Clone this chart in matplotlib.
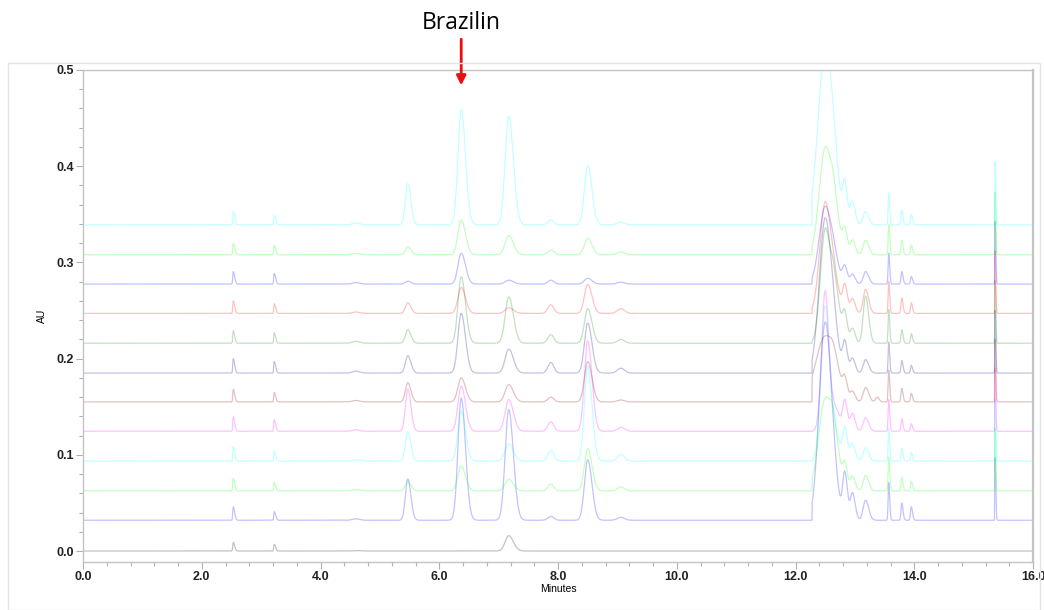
import numpy as np
import matplotlib
matplotlib.use('Agg')
import matplotlib.pyplot as plt
from matplotlib.patches import Rectangle
from matplotlib.ticker import MultipleLocator, FormatStrFormatter

# retention times (min) of the peaks
peak_times = [2.53, 3.22, 4.60, 5.47, 6.37, 7.17, 7.88, 8.50, 9.06,
              12.50, 12.65, 12.83, 12.96, 13.18, 13.38, 13.57, 13.79, 13.95, 15.36]
peak_sigma = [0.008, 0.008, 0.06, 0.04, 0.055, 0.06, 0.05, 0.055, 0.06,
              None, 0.06, 0.035, 0.035, 0.04, 0.03, 0.010, 0.013, 0.013, 0.004]
peak_tail = [3.0, 3.0, 1.0, 1.3, 1.3, 1.3, 1.0, 1.3, 1.0,
             1.0, 1.5, 1.3, 1.3, 1.3, 1.0, 1.6, 1.6, 1.6, 3.0]
rise_time = 12.28  # solvent step where the big cluster starts abruptly

# trace baselines (AU offset), colours, big-peak width
offsets = [0.0, 0.032, 0.0625, 0.0935, 0.1245, 0.155, 0.185, 0.216, 0.247, 0.2775, 0.308, 0.339]
colors = ['black', 'blue', 'lime', 'cyan', 'magenta', 'maroon',
          'navy', 'green', 'red', 'blue', 'lime', 'cyan']
big_sigma = [0.1, 0.1, 0.11, 0.07, 0.06, 0.16, 0.1, 0.08, 0.09, 0.1, 0.1, 0.12]

# peak heights per trace, same order as peak_times
h_grey = [0.009, 0.007, 0.0005, 0, 0, 0.016, 0, 0, 0, 0, 0, 0, 0, 0, 0, 0, 0, 0, 0]
h_blue1 = [0.014, 0.009, 0.0015, 0.043, 0.127, 0.115, 0.004, 0.063, 0.003,
           0.205, 0.025, 0.047, 0.028, 0.021, 0, 0.039, 0.018, 0.014, 0.065]
h_green2 = [0.013, 0.009, 0.0015, 0.010, 0.026, 0.012, 0.007, 0.044, 0.004,
            0.095, 0.045, 0.024, 0.015, 0.016, 0, 0.035, 0.014, 0.010, 0.065]
h_cyan3 = [0.015, 0.011, 0.0015, 0.030, 0.052, 0.018, 0.011, 0.099, 0.007,
           0.160, 0.030, 0.032, 0.018, 0.014, 0, 0.034, 0.013, 0.009, 0.065]
h_magenta4 = [0.015, 0.012, 0.0015, 0.044, 0.047, 0.033, 0.010, 0.094, 0.004,
              0.145, 0.025, 0.030, 0.018, 0.014, 0, 0.033, 0.013, 0.008, 0.065]
h_brown5 = [0.013, 0.010, 0.0015, 0.020, 0.025, 0.018, 0.005, 0.042, 0.002,
            0.068, 0.015, 0.018, 0.010, 0.015, 0.005, 0.033, 0.014, 0.009, 0.065]
h_navy6 = [0.015, 0.012, 0.002, 0.018, 0.062, 0.025, 0.011, 0.052, 0.005,
           0.160, 0.030, 0.030, 0.015, 0.014, 0, 0.032, 0.013, 0.008, 0.065]
h_dkgreen7 = [0.013, 0.011, 0.002, 0.014, 0.069, 0.048, 0.009, 0.036, 0.004,
              0.117, 0.060, 0.027, 0.015, 0.049, 0, 0.035, 0.014, 0.010, 0.065]
h_red8 = [0.013, 0.010, 0.0015, 0.011, 0.027, 0.006, 0.009, 0.030, 0.005,
          0.115, 0.030, 0.027, 0.015, 0.025, 0, 0.033, 0.016, 0.011, 0.065]
h_blue9 = [0.013, 0.011, 0.0015, 0.003, 0.032, 0.004, 0.004, 0.006, 0.002,
           0.080, 0.020, 0.017, 0.010, 0.013, 0, 0.032, 0.013, 0.008, 0.065]
h_green10 = [0.012, 0.010, 0.0015, 0.008, 0.036, 0.020, 0.005, 0.017, 0.003,
             0.110, 0.044, 0.023, 0.015, 0.015, 0, 0.031, 0.015, 0.010, 0.065]
h_cyan11 = [0.014, 0.010, 0.002, 0.043, 0.120, 0.113, 0.005, 0.062, 0.003,
            0.180, 0.030, 0.040, 0.024, 0.014, 0, 0.033, 0.015, 0.011, 0.066]

heights = [h_grey, h_blue1, h_green2, h_cyan3, h_magenta4, h_brown5,
           h_navy6, h_dkgreen7, h_red8, h_blue9, h_green10, h_cyan11]

t = np.arange(0.0, 16.0005, 0.002)


def peak(c, s, tail, h):
    # gaussian with a stretched right-hand side for tailing
    sig = np.where(t < c, s, s * tail)
    return h * np.exp(-0.5 * ((t - c) / sig) ** 2)


def trace(i):
    y = np.zeros_like(t)
    for k, (c, s, tl) in enumerate(zip(peak_times, peak_sigma, peak_tail)):
        h = heights[i][k]
        if h == 0:
            continue
        if s is None:
            p = peak(c, big_sigma[i], tl, h)
            p[t < rise_time] = 0.0
        else:
            p = peak(c, s, tl, h)
        y += p
    return y + offsets[i]


fig = plt.figure(figsize=(10.44, 6.10), dpi=100)
ax = fig.add_axes([83 / 1044, 1 - 562 / 610, 950 / 1044, 492 / 610])

# light outer frame of the exported chart window
fig.patches.append(Rectangle((8 / 1044, 0.0), 1032 / 1044, 1 - 63 / 610,
                             transform=fig.transFigure, fill=False,
                             edgecolor='#e4e4e4', lw=1.0))

for i in range(len(offsets)):
    ax.plot(t, trace(i), color=colors[i], alpha=0.24, lw=0.9)

ax.set_xlim(0, 16)
ax.set_ylim(-0.0114, 0.5)
ax.xaxis.set_major_locator(MultipleLocator(2.0))
ax.xaxis.set_minor_locator(MultipleLocator(0.4))
ax.yaxis.set_major_locator(MultipleLocator(0.1))
ax.yaxis.set_minor_locator(MultipleLocator(0.02))
ax.xaxis.set_major_formatter(FormatStrFormatter('%.1f'))
ax.yaxis.set_major_formatter(FormatStrFormatter('%.1f'))

for sp in ax.spines.values():
    sp.set_color('#c4c4c4')
    sp.set_linewidth(1.0)
ax.spines['right'].set_linewidth(1.6)

ax.tick_params(which='both', direction='out', color='#b0b0b0', width=0.8)
ax.tick_params(which='major', length=5, labelsize=9, labelcolor='#222222', pad=1.5)
ax.tick_params(which='minor', length=3)
for lab in ax.get_xticklabels() + ax.get_yticklabels():
    lab.set_fontfamily('Liberation Sans')
    lab.set_fontweight('bold')

ax.set_xlabel('Minutes', fontsize=7.5, family='Liberation Sans', labelpad=1)
ax.set_ylabel('AU', fontsize=7.5, family='Liberation Sans', labelpad=7)

# Brazilin label with red arrow
ax.text(6.37, 0.549, 'Brazilin', fontsize=16.5, family='Open Sans',
        ha='center', va='center', clip_on=False)
ax.annotate('', xy=(6.37, 0.484), xytext=(6.37, 0.532),
            arrowprops=dict(arrowstyle='-|>', color='#e81010', lw=2.0,
                            mutation_scale=14, shrinkA=0, shrinkB=0),
            annotation_clip=False)

fig.savefig('out.png', dpi=100)
